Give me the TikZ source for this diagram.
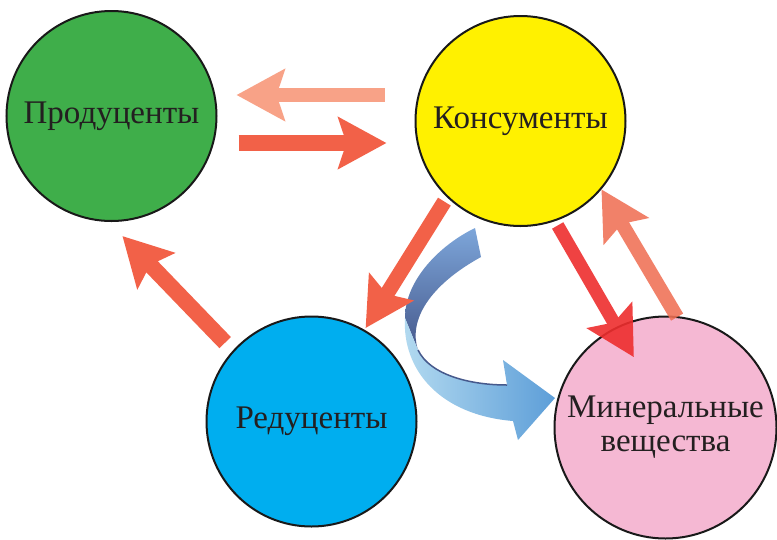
\documentclass[tikz,border=0pt]{standalone}
\usepackage{fontspec}
\setmainfont{Liberation Serif}
\usetikzlibrary{arrows.meta}
\definecolor{prodgreen}{HTML}{3FAE4A}
\definecolor{konsyellow}{HTML}{FFF100}
\definecolor{redblue}{HTML}{00AEEF}
\definecolor{minpink}{HTML}{F5B8D3}
\definecolor{arrlight}{HTML}{F8A287}
\definecolor{arrorange}{HTML}{F26148}
\definecolor{arrred}{HTML}{EE2E2E}
\definecolor{arrsoft}{HTML}{F07055}
\definecolor{bluetop}{HTML}{7DA6DA}
\definecolor{bluedark}{HTML}{46598C}
\definecolor{bluelight}{HTML}{B3DAF0}
\definecolor{bluemid}{HTML}{5D9ED8}
\definecolor{txt}{HTML}{231F20}

\begin{document}
\begin{tikzpicture}[x=1pt,y=-1pt,
		ball/.style={circle,draw=black!90,line width=2pt,inner sep=0pt,outer sep=0pt,
			minimum size=210pt,text=txt,
			font=\fontsize{33}{34}\selectfont,align=center},
		blockarrow/.style={line width=15pt,-{Stealth[length=48pt,width=51pt,inset=8pt]}}]
	\useasboundingbox [fill=white] (0,0) rectangle (777,539);
	\node [ball,fill=prodgreen] (prod) at (111.5,116) {Продуценты};
	\node [ball,fill=konsyellow] (kons) at (520.5,121) {Консументы};
	\node [ball,fill=redblue] (red) at (311.5,421.5) {Редуценты};
	\node [ball,fill=minpink,minimum size=222pt] (min) at (665.5,427.5) {Минеральные\\вещества};
	% the bent arrow
	\shade [top color=bluetop,bottom color=bluedark] (475,228) .. controls (440,245) and (405,280) .. (405,318) -- (418,350) .. controls (408,320) and (430,285) .. (481,257) -- cycle;
	\shade [left color=bluelight,right color=bluemid] (405,318) .. controls (402,370) and (440,415) .. (513,421) -- (518,440) -- (555,398) -- (503,360) -- (507,385) .. controls (470,385) and (430,375) .. (418,350) -- cycle;
	\draw [bluedark,line width=1.5pt] (418,350) .. controls (430,375) and (470,385) .. (507,385);
	% straight arrows
	\draw [blockarrow,arrlight,line width=14pt,shorten <=31pt,shorten >=20pt] ([yshift=26pt]kons.west) -- ([yshift=21pt]prod.east);
	\draw [blockarrow,arrorange,line width=16pt,shorten <=22pt,shorten >=29pt] ([yshift=-27pt]prod.east) -- ([yshift=-22pt]kons.west);
	\draw [blockarrow,arrorange,line width=16pt,shorten <=12pt,shorten >=21pt] (red.138) -- (prod.-92);
	\draw [blockarrow,arrorange,shorten <=6pt,shorten >=3pt] (kons.-134) -- (red.60);
	\begin{scope}[transparency group,opacity=.9]
		\draw [blockarrow,arrred,line width=13pt,shorten <=6pt,shorten >=-34pt] (kons.-71) -- (min.116);
	\end{scope}
	\begin{scope}[transparency group,opacity=.88]
		\draw [blockarrow,arrsoft,line width=14pt,shorten >=1pt] (min.84) -- (kons.-40);
	\end{scope}
\end{tikzpicture}
\end{document}
